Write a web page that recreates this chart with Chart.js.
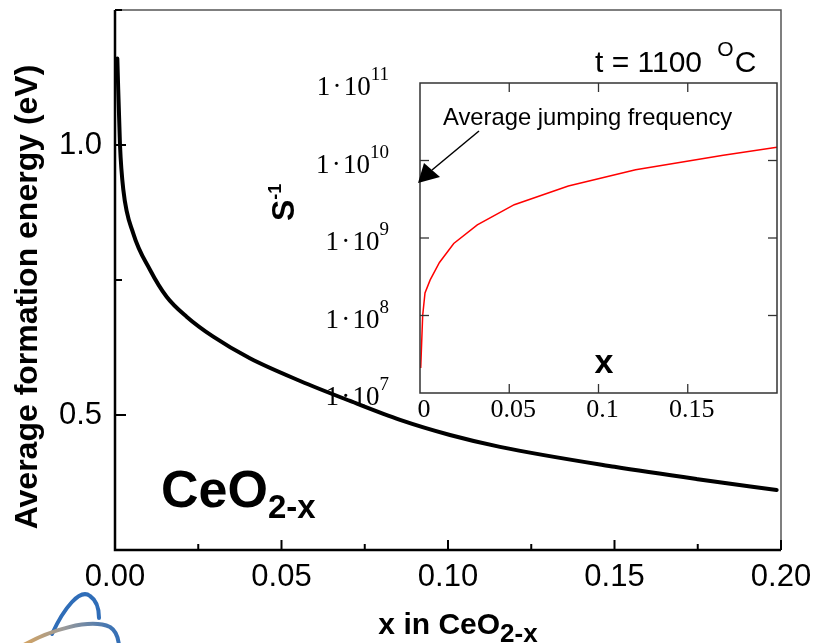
<!DOCTYPE html>
<html lang="en">
<head>
<meta charset="UTF-8">
<title>CeO2-x formation energy</title>
<script src="https://cdn.jsdelivr.net/npm/chart.js"></script>
<style>
  html, body { margin: 0; padding: 0; background: #fff; }
  #wrap { position: relative; width: 815px; height: 643px; overflow: hidden; }
  #main { position: absolute; left: 0; top: 0; }
  #inset { position: absolute; left: 300px; top: 40px; }
</style>
</head>
<body>
<div id="wrap">
  <canvas id="main" width="815" height="643"></canvas>
  <canvas id="inset" width="500" height="400"></canvas>
</div>
<script>
// main curve: average formation energy (eV) against x in CeO2-x
const energyX = [0.0007, 0.0015, 0.0025, 0.0055, 0.0105, 0.0155, 0.0215, 0.0295, 0.0405, 0.0556, 0.0706, 0.0856, 0.1006, 0.1156, 0.15, 0.175, 0.1987];
const energyY = [1.16, 1.0, 0.917, 0.836, 0.769, 0.719, 0.682, 0.645, 0.605, 0.563, 0.526, 0.491, 0.463, 0.441, 0.404, 0.381, 0.361];
const energyXTicks = [0, 0.05, 0.1, 0.15, 0.2];
const energyXMinor = [0.025, 0.075, 0.125, 0.175];
const energyYTicks = [0.5, 1.0];
const energyYMinor = [0.25, 0.75, 1.25];

// inset: average jumping frequency (s^-1), log scale
const freqX = [0.0004, 0.0015, 0.0028, 0.0057, 0.0109, 0.0189, 0.0321, 0.0528, 0.0831, 0.1208, 0.1699, 0.2];
const freqY = [2.1e7, 1.0e8, 1.95e8, 2.88e8, 4.84e8, 8.5e8, 1.48e9, 2.69e9, 4.68e9, 7.59e9, 1.17e10, 1.48e10];
const freqXTicks = [0, 0.05, 0.1, 0.15, 0.2];
const freqYExp = [7, 8, 9, 10, 11];

const SANS = '"Liberation Sans", Arial, sans-serif';
const SERIF = '"Liberation Serif", "Times New Roman", serif';

function seg(ctx, x1, y1, x2, y2) {
  ctx.beginPath();
  ctx.moveTo(x1, y1);
  ctx.lineTo(x2, y2);
  ctx.stroke();
}

// text with a lowered or raised part, e.g. CeO + 2-x
function textWithScript(ctx, x, y, base, baseFont, script, scriptFont, dy) {
  ctx.font = baseFont;
  ctx.fillText(base, x, y);
  const w = ctx.measureText(base).width;
  ctx.font = scriptFont;
  ctx.fillText(script, x + w, y + dy);
  return x + w + ctx.measureText(script).width;
}

// keep the plot box where it is, whatever the labels need
function noPad(s) {
  s.paddingTop = 0;
  s.paddingBottom = 0;
  s.paddingLeft = 0;
  s.paddingRight = 0;
}

// frame, inward ticks, titles and the logo of the main plot
const mainDecor = {
  id: 'mainDecor',
  afterDraw(chart) {
    const { ctx, chartArea: a, scales: { x, y } } = chart;
    ctx.save();
    ctx.strokeStyle = '#555';
    ctx.lineWidth = 1.5;
    ctx.beginPath();
    ctx.moveTo(a.left, a.top);
    ctx.lineTo(a.right, a.top);
    ctx.lineTo(a.right, a.bottom);
    ctx.stroke();
    ctx.strokeStyle = '#000';
    ctx.lineWidth = 2.5;
    ctx.beginPath();
    ctx.moveTo(a.left, a.top);
    ctx.lineTo(a.left, a.bottom);
    ctx.lineTo(a.right, a.bottom);
    ctx.stroke();

    ctx.lineWidth = 2;
    energyXTicks.forEach(v => { const px = x.getPixelForValue(v); seg(ctx, px, a.bottom, px, a.bottom - 10); });
    energyXMinor.forEach(v => { const px = x.getPixelForValue(v); seg(ctx, px, a.bottom, px, a.bottom - 6); });
    energyYTicks.forEach(v => { const py = y.getPixelForValue(v); seg(ctx, a.left, py, a.left + 11, py); });
    energyYMinor.forEach(v => { const py = y.getPixelForValue(v); seg(ctx, a.left, py, a.left + 7, py); });

    ctx.fillStyle = '#000';
    ctx.textBaseline = 'alphabetic';
    ctx.textAlign = 'left';

    // y title
    ctx.save();
    ctx.translate(37, 297);
    ctx.rotate(-Math.PI / 2);
    ctx.textAlign = 'center';
    ctx.font = 'bold 32px ' + SANS;
    ctx.fillText('Average formation energy (eV)', 0, 0);
    ctx.restore();

    // s^-1 title of the inset
    ctx.save();
    ctx.translate(294, 221);
    ctx.rotate(-Math.PI / 2);
    textWithScript(ctx, 0, 0, 'S', 'bold 32px ' + SANS, '-1', 'bold 18px ' + SANS, -13);
    ctx.restore();

    // x title
    ctx.font = 'bold 30px ' + SANS;
    const xw = ctx.measureText('x in CeO').width;
    ctx.font = 'bold 26px ' + SANS;
    const sw = ctx.measureText('2-x').width;
    textWithScript(ctx, 458 - (xw + sw) / 2, 634, 'x in CeO', 'bold 30px ' + SANS, '2-x', 'bold 26px ' + SANS, 8);

    // compound label
    textWithScript(ctx, 161, 507, 'CeO', 'bold 52px ' + SANS, '2-x', 'bold 33px ' + SANS, 11);

    // temperature
    let tx = 595;
    ctx.font = '30px ' + SANS;
    ctx.fillText('t = 1100 ', tx, 72);
    tx += ctx.measureText('t = 1100 ').width + 7;
    ctx.font = '21px ' + SANS;
    ctx.fillText('O', tx, 56);
    tx += ctx.measureText('O').width + 1;
    ctx.font = '30px ' + SANS;
    ctx.fillText('C', tx, 72);

    // logo scraps at the bottom left
    ctx.lineCap = 'round';
    ctx.strokeStyle = '#2f6db8';
    ctx.lineWidth = 4;
    ctx.beginPath();
    ctx.moveTo(52, 634);
    ctx.bezierCurveTo(64, 608, 80, 588, 90, 596);
    ctx.quadraticCurveTo(99, 602, 99, 618);
    ctx.stroke();
    const g = ctx.createLinearGradient(20, 643, 120, 630);
    g.addColorStop(0, '#d9a45c');
    g.addColorStop(0.45, '#9a9a9a');
    g.addColorStop(1, '#2f6db8');
    ctx.strokeStyle = g;
    ctx.beginPath();
    ctx.moveTo(22, 646);
    ctx.bezierCurveTo(50, 630, 90, 618, 110, 627);
    ctx.quadraticCurveTo(118, 632, 119, 646);
    ctx.stroke();
    ctx.restore();
  }
};

new Chart(document.getElementById('main'), {
  type: 'line',
  data: {
    datasets: [{
      data: energyX.map((v, i) => ({ x: v, y: energyY[i] })),
      borderColor: '#000',
      borderWidth: 4,
      borderCapStyle: 'round',
      pointRadius: 0,
      cubicInterpolationMode: 'monotone',
      fill: false
    }]
  },
  options: {
    responsive: false,
    animation: false,
    devicePixelRatio: 1,
    layout: { padding: { top: 10, right: 34, left: 0, bottom: 0 } },
    plugins: { legend: { display: false }, tooltip: { enabled: false } },
    scales: {
      x: {
        type: 'linear',
        min: 0,
        max: 0.2,
        afterBuildTicks: s => { s.ticks = energyXTicks.map(v => ({ value: v })); },
        afterFit: s => { s.height = 93; noPad(s); },
        grid: { display: false, drawTicks: false },
        border: { display: false },
        ticks: {
          color: '#000',
          font: { family: SANS, size: 31 },
          padding: 9,
          maxRotation: 0,
          autoSkip: false,
          callback: v => v.toFixed(2)
        }
      },
      y: {
        type: 'linear',
        min: 0.25,
        max: 1.25,
        afterBuildTicks: s => { s.ticks = energyYTicks.map(v => ({ value: v })); },
        afterFit: s => { s.width = 115; noPad(s); },
        grid: { display: false, drawTicks: false },
        border: { display: false },
        ticks: {
          color: '#000',
          font: { family: SANS, size: 31 },
          padding: 13,
          callback: v => v.toFixed(1)
        }
      }
    }
  },
  plugins: [mainDecor]
});

// frame, ticks, power-of-ten labels and annotations of the inset
const insetDecor = {
  id: 'insetDecor',
  afterDraw(chart) {
    const { ctx, chartArea: a, scales: { x, y } } = chart;
    ctx.save();
    ctx.strokeStyle = '#333';
    ctx.lineWidth = 1.5;
    ctx.strokeRect(a.left, a.top, a.right - a.left, a.bottom - a.top);
    ctx.lineWidth = 1.3;
    freqXTicks.slice(1, -1).forEach(v => {
      const px = x.getPixelForValue(v);
      seg(ctx, px, a.bottom, px, a.bottom - 9);
      seg(ctx, px, a.top, px, a.top + 9);
    });
    freqYExp.slice(1, -1).forEach(e => {
      const py = y.getPixelForValue(Math.pow(10, e));
      seg(ctx, a.left, py, a.left + 9, py);
      seg(ctx, a.right, py, a.right - 9, py);
    });

    // tick labels 1·10^n
    ctx.fillStyle = '#000';
    ctx.textBaseline = 'alphabetic';
    freqYExp.forEach(e => {
      const py = y.getPixelForValue(Math.pow(10, e));
      ctx.textAlign = 'right';
      ctx.font = '19px ' + SERIF;
      const right = 89;
      ctx.fillText(String(e), right, py - 3);
      const ew = ctx.measureText(String(e)).width;
      ctx.font = '27px ' + SERIF;
      ctx.fillText('1\u200a\u00b7\u200a10', right - ew, py + 12);
    });

    // x label inside
    ctx.textAlign = 'center';
    ctx.font = 'bold 34px ' + SANS;
    ctx.fillText('x', 304, 333);

    ctx.textAlign = 'left';
    ctx.font = '23.8px ' + SANS;
    ctx.fillText('Average jumping frequency', 143, 85);

    // arrow to the left axis
    ctx.strokeStyle = '#000';
    ctx.lineWidth = 1.5;
    seg(ctx, 179, 91, 132, 130);
    ctx.beginPath();
    ctx.moveTo(118, 143);
    ctx.lineTo(124, 123);
    ctx.lineTo(140, 137);
    ctx.closePath();
    ctx.fill();
    ctx.restore();
  }
};

new Chart(document.getElementById('inset'), {
  type: 'line',
  data: {
    datasets: [{
      data: freqX.map((v, i) => ({ x: v, y: freqY[i] })),
      borderColor: '#ff0000',
      borderWidth: 1.5,
      pointRadius: 0,
      tension: 0,
      fill: false
    }]
  },
  options: {
    responsive: false,
    animation: false,
    devicePixelRatio: 1,
    layout: { padding: { top: 43, right: 23, left: 0, bottom: 0 } },
    plugins: { legend: { display: false }, tooltip: { enabled: false } },
    scales: {
      x: {
        type: 'linear',
        min: 0,
        max: 0.2,
        afterBuildTicks: s => { s.ticks = freqXTicks.map(v => ({ value: v })); },
        afterFit: s => { s.height = 47; noPad(s); },
        grid: { display: false, drawTicks: false },
        border: { display: false },
        ticks: {
          color: '#000',
          font: { family: SERIF, size: 26 },
          padding: 2,
          labelOffset: 4,
          maxRotation: 0,
          autoSkip: false,
          callback: v => (v === 0.2 ? '' : String(v))
        }
      },
      y: {
        type: 'logarithmic',
        min: 1e7,
        max: 1e11,
        afterBuildTicks: s => { s.ticks = freqYExp.map(e => ({ value: Math.pow(10, e) })); },
        afterFit: s => { s.width = 120; noPad(s); },
        grid: { display: false, drawTicks: false },
        border: { display: false },
        ticks: { display: false }
      }
    }
  },
  plugins: [insetDecor]
});
</script>
</body>
</html>
